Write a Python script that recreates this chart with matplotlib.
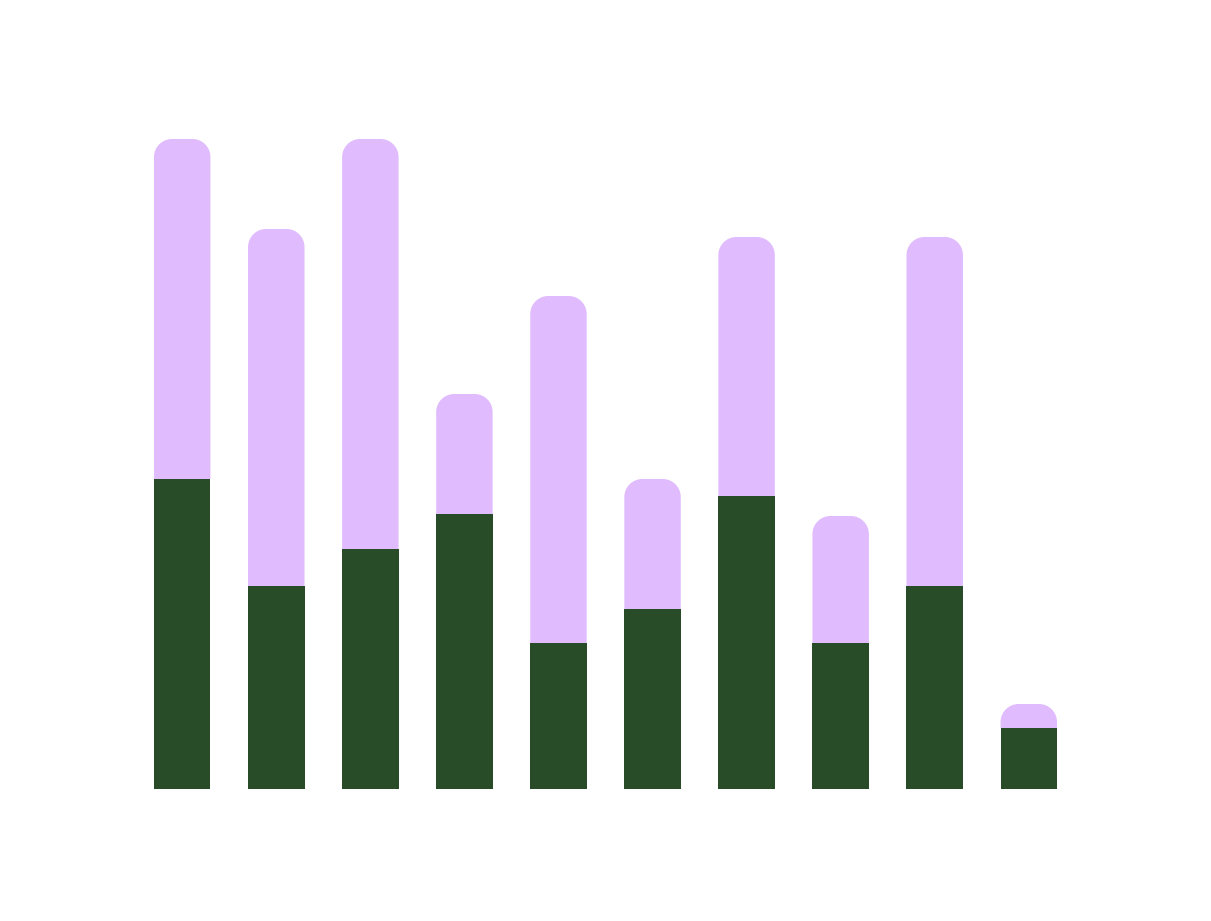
import matplotlib
matplotlib.use("Agg")
import matplotlib.pyplot as plt
from matplotlib.path import Path
from matplotlib.patches import PathPatch
import numpy as np

categories = list(range(10))
dark_values = [31.0, 20.3, 24.0, 27.5, 14.6, 18.0, 29.3, 14.6, 20.3, 6.1]
light_values = [34.0, 35.7, 41.0, 12.0, 34.7, 13.0, 25.9, 12.7, 34.9, 2.4]

DARK = "#284c28"
LIGHT = "#e0bbfe"

W, H = 1211, 921
fig = plt.figure(figsize=(W / 100, H / 100), dpi=100)
ax_l, ax_r, ax_b, ax_t = 154, 1057, 789, 139
ax = fig.add_axes([ax_l / W, (H - ax_b) / H, (ax_r - ax_l) / W, (ax_b - ax_t) / H])
xmin, xmax, ymin, ymax = -0.3, 9.3, 0, 65
ax.set_xlim(xmin, xmax)
ax.set_ylim(ymin, ymax)
ax.axis("off")

width = 0.6
x = np.arange(len(categories))
ax.bar(x, dark_values, width=width, color=DARK, linewidth=0)

# rounded top corners (radius in pixels -> data units)
r_px = 18
rx = r_px * (xmax - xmin) / (ax_r - ax_l)
ry = r_px * (ymax - ymin) / (ax_b - ax_t)
k = 0.5523


def top_rounded(x0, x1, y0, y1):
    h = y1 - y0
    ryy = min(ry, h)
    verts = [
        (x0, y0), (x0, y1 - ryy),
        (x0, y1 - ryy + k * ryy), (x0 + rx - k * rx, y1), (x0 + rx, y1),
        (x1 - rx, y1),
        (x1 - rx + k * rx, y1), (x1, y1 - ryy + k * ryy), (x1, y1 - ryy),
        (x1, y0), (x0, y0),
    ]
    codes = [Path.MOVETO, Path.LINETO,
             Path.CURVE4, Path.CURVE4, Path.CURVE4,
             Path.LINETO,
             Path.CURVE4, Path.CURVE4, Path.CURVE4,
             Path.LINETO, Path.CLOSEPOLY]
    return Path(verts, codes)


for xi, d, l in zip(x, dark_values, light_values):
    p = top_rounded(xi - width / 2, xi + width / 2, d, d + l)
    ax.add_patch(PathPatch(p, facecolor=LIGHT, edgecolor="none", linewidth=0))

fig.savefig("out.png", dpi=100, facecolor="white")
